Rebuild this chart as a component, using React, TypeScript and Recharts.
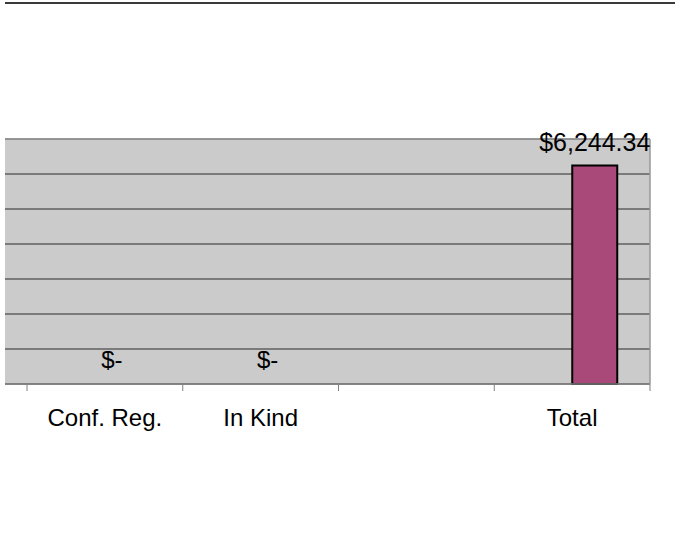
import React from 'react';
import { ComposedChart, Bar, Line, XAxis, YAxis, CartesianGrid, ReferenceLine, LabelList } from 'recharts';

// categories and values
const categories = ['Conf. Reg.', 'In Kind', '', 'Total'];
const amounts: (number | null)[] = [0, 0, null, 6244.34];
const blankSeries: (number | null)[] = [null, null, null, null];
const yTicks = [0, 1000, 2000, 3000, 4000, 5000, 6000, 7000];

const data = categories.map((name, i) => ({
  name,
  blank: blankSeries[i],
  amount: amounts[i],
}));

const FONT = "'Liberation Sans', Arial, sans-serif";

const fmt = (v: number) =>
  '$' + v.toLocaleString('en-US', { minimumFractionDigits: 2, maximumFractionDigits: 2 });

const CategoryTick = (props: any) => {
  const { x, y, payload, index, visibleTicksCount } = props;
  const half = payload && payload.offset ? payload.offset : 77.875;
  const isLast = index === visibleTicksCount - 1;
  return (
    <g>
      <line x1={x - half} y1={y} x2={x - half} y2={y + 7} stroke="#808080" />
      {isLast && <line x1={x + half} y1={y} x2={x + half} y2={y + 7} stroke="#808080" />}
      <text x={x} y={y + 42} textAnchor="middle" fontFamily={FONT} fontSize={24} fill="#000">
        {payload.value}
      </text>
    </g>
  );
};

// label on top of the non-zero bars
const BarValueLabel = (props: any) => {
  const { x, y, width, value } = props;
  const n = Number(value);
  if (value === null || value === undefined || isNaN(n) || n === 0) return null;
  return (
    <text x={Number(x) + Number(width) / 2} y={Number(y) - 14} textAnchor="middle" fontFamily={FONT} fontSize={25} fill="#000">
      {fmt(n)}
    </text>
  );
};

// zero-height bars get no rect, so their "$-" comes from an invisible line
const ZeroLabel = (props: any) => {
  const { x, y, value } = props;
  if (value === null || value === undefined || value === '' || Number(value) !== 0) return null;
  return (
    <text x={Number(x) + 7} y={Number(y) - 16} textAnchor="middle" fontFamily={FONT} fontSize={24} fill="#000">
      $-
    </text>
  );
};

export default function App() {
  return (
    <div style={{ position: 'absolute', left: 0, top: 0, width: 675, height: 541, background: '#fff' }}>
      <div style={{ position: 'absolute', left: 5, top: 2, width: 670, height: 2, background: '#3a3a3a' }} />
      <ComposedChart
        width={675}
        height={541}
        data={data}
        margin={{ top: 139, right: 24, left: 5, bottom: 117 }}
        barGap={0}
      >
        <CartesianGrid yAxisId="l" vertical={false} stroke="#2a2a2a" fill="#cbcbcb" fillOpacity={1} />
        <XAxis
          dataKey="name"
          padding={{ left: 22, right: 0 }}
          height={40}
          interval={0}
          tickSize={0}
          tickMargin={0}
          tickLine={false}
          axisLine={{ stroke: '#808080', strokeWidth: 1.5 }}
          tick={<CategoryTick />}
        />
        <YAxis yAxisId="l" hide domain={[0, 7000]} ticks={yTicks} />
        <YAxis
          yAxisId="r"
          orientation="right"
          width={1}
          domain={[0, 7000]}
          tick={false}
          tickLine={false}
          axisLine={{ stroke: '#999999', strokeWidth: 1.5 }}
        />
        <ReferenceLine yAxisId="l" y={7000} stroke="#999999" strokeWidth={1.5} />
        <Bar yAxisId="l" dataKey="blank" barSize={45} fill="#9999ff" isAnimationActive={false} />
        <Bar
          yAxisId="l"
          dataKey="amount"
          barSize={45}
          fill="#a8497a"
          stroke="#000"
          strokeWidth={2}
          isAnimationActive={false}
        >
          <LabelList dataKey="amount" content={<BarValueLabel />} />
        </Bar>
        <Line
          yAxisId="l"
          dataKey="amount"
          stroke="none"
          dot={false}
          activeDot={false}
          legendType="none"
          isAnimationActive={false}
        >
          <LabelList dataKey="amount" content={<ZeroLabel />} />
        </Line>
      </ComposedChart>
    </div>
  );
}
